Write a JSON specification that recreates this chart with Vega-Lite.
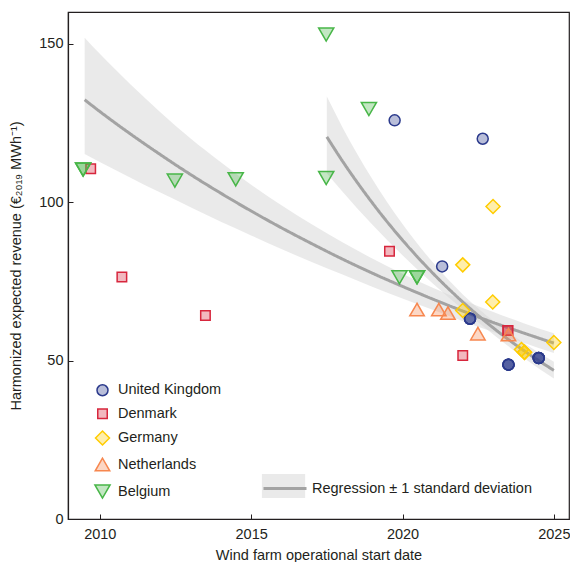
{
  "$schema": "https://vega.github.io/schema/vega-lite/v6.json",
  "width": 501,
  "height": 507,
  "autosize": "none",
  "padding": {"left": 68, "top": 12, "right": 1, "bottom": 43},
  "config": {
    "font": "Liberation Sans",
    "view": {"stroke": "#231f20", "strokeWidth": 1.2},
    "axis": {
      "grid": false,
      "domainColor": "#231f20",
      "domainWidth": 1.2,
      "tickColor": "#231f20",
      "tickSize": -5,
      "labelColor": "#231f20",
      "titleColor": "#231f20",
      "labelFontSize": 14.5,
      "titleFontSize": 14.5,
      "titleFontWeight": "normal"
    },
    "legend": {"labelFontSize": 14.5, "labelColor": "#231f20", "padding": 0, "labelLimit": 400}
  },
  "datasets": {
    "fit": [
      {"model": "all", "year": 2009.5, "fit": 132.3, "lo": 115.2, "hi": 151.9, "label": "Regression ± 1 standard deviation", "band": "sd"},
      {"model": "all", "year": 2010, "fit": 128.6, "lo": 112.7, "hi": 146.8, "label": "Regression ± 1 standard deviation", "band": "sd"},
      {"model": "all", "year": 2011, "fit": 121.6, "lo": 107.8, "hi": 137.3, "label": "Regression ± 1 standard deviation", "band": "sd"},
      {"model": "all", "year": 2012, "fit": 115.0, "lo": 103.0, "hi": 128.4, "label": "Regression ± 1 standard deviation", "band": "sd"},
      {"model": "all", "year": 2013, "fit": 108.7, "lo": 98.4, "hi": 120.1, "label": "Regression ± 1 standard deviation", "band": "sd"},
      {"model": "all", "year": 2014, "fit": 102.8, "lo": 93.8, "hi": 112.6, "label": "Regression ± 1 standard deviation", "band": "sd"},
      {"model": "all", "year": 2015, "fit": 97.2, "lo": 89.5, "hi": 105.5, "label": "Regression ± 1 standard deviation", "band": "sd"},
      {"model": "all", "year": 2016, "fit": 91.9, "lo": 85.2, "hi": 99.0, "label": "Regression ± 1 standard deviation", "band": "sd"},
      {"model": "all", "year": 2017, "fit": 86.9, "lo": 81.1, "hi": 93.0, "label": "Regression ± 1 standard deviation", "band": "sd"},
      {"model": "all", "year": 2018, "fit": 82.1, "lo": 77.2, "hi": 87.4, "label": "Regression ± 1 standard deviation", "band": "sd"},
      {"model": "all", "year": 2019, "fit": 77.6, "lo": 73.3, "hi": 82.2, "label": "Regression ± 1 standard deviation", "band": "sd"},
      {"model": "all", "year": 2020, "fit": 73.4, "lo": 69.6, "hi": 77.4, "label": "Regression ± 1 standard deviation", "band": "sd"},
      {"model": "all", "year": 2021, "fit": 69.4, "lo": 66.0, "hi": 73.0, "label": "Regression ± 1 standard deviation", "band": "sd"},
      {"model": "all", "year": 2022, "fit": 65.6, "lo": 62.4, "hi": 69.0, "label": "Regression ± 1 standard deviation", "band": "sd"},
      {"model": "all", "year": 2023, "fit": 62.0, "lo": 59.0, "hi": 65.3, "label": "Regression ± 1 standard deviation", "band": "sd"},
      {"model": "all", "year": 2024, "fit": 58.7, "lo": 55.6, "hi": 61.8, "label": "Regression ± 1 standard deviation", "band": "sd"},
      {"model": "all", "year": 2025, "fit": 55.5, "lo": 52.4, "hi": 58.6, "label": "Regression ± 1 standard deviation", "band": "sd"},
      {"model": "recent", "year": 2017.5, "fit": 120.6, "lo": 109.1, "hi": 133.3, "label": "Regression ± 1 standard deviation", "band": "sd"},
      {"model": "recent", "year": 2018, "fit": 113.2, "lo": 103.5, "hi": 123.9, "label": "Regression ± 1 standard deviation", "band": "sd"},
      {"model": "recent", "year": 2019, "fit": 99.8, "lo": 92.9, "hi": 107.3, "label": "Regression ± 1 standard deviation", "band": "sd"},
      {"model": "recent", "year": 2020, "fit": 88.0, "lo": 83.2, "hi": 93.1, "label": "Regression ± 1 standard deviation", "band": "sd"},
      {"model": "recent", "year": 2021, "fit": 77.6, "lo": 74.3, "hi": 81.0, "label": "Regression ± 1 standard deviation", "band": "sd"},
      {"model": "recent", "year": 2022, "fit": 68.4, "lo": 66.1, "hi": 70.8, "label": "Regression ± 1 standard deviation", "band": "sd"},
      {"model": "recent", "year": 2023, "fit": 60.3, "lo": 58.2, "hi": 62.5, "label": "Regression ± 1 standard deviation", "band": "sd"},
      {"model": "recent", "year": 2024, "fit": 53.2, "lo": 50.9, "hi": 55.6, "label": "Regression ± 1 standard deviation", "band": "sd"},
      {"model": "recent", "year": 2025, "fit": 46.9, "lo": 44.3, "hi": 49.6, "label": "Regression ± 1 standard deviation", "band": "sd"}
    ],
    "points": [
      {"country": "United Kingdom", "year": 2019.74, "value": 125.8},
      {"country": "United Kingdom", "year": 2022.65, "value": 120.0},
      {"country": "United Kingdom", "year": 2021.31, "value": 79.7},
      {"country": "United Kingdom", "year": 2022.23, "value": 63.2},
      {"country": "United Kingdom", "year": 2022.23, "value": 63.2},
      {"country": "United Kingdom", "year": 2022.23, "value": 63.2},
      {"country": "United Kingdom", "year": 2023.5, "value": 48.7},
      {"country": "United Kingdom", "year": 2023.5, "value": 48.7},
      {"country": "United Kingdom", "year": 2023.5, "value": 48.7},
      {"country": "United Kingdom", "year": 2023.5, "value": 48.7},
      {"country": "United Kingdom", "year": 2024.5, "value": 50.8},
      {"country": "United Kingdom", "year": 2024.5, "value": 50.8},
      {"country": "United Kingdom", "year": 2024.5, "value": 50.8},
      {"country": "United Kingdom", "year": 2024.5, "value": 50.8},
      {"country": "Denmark", "year": 2009.7, "value": 110.5},
      {"country": "Denmark", "year": 2010.73, "value": 76.4},
      {"country": "Denmark", "year": 2013.49, "value": 64.2},
      {"country": "Denmark", "year": 2019.57, "value": 84.5},
      {"country": "Denmark", "year": 2021.99, "value": 51.6},
      {"country": "Denmark", "year": 2023.48, "value": 59.5},
      {"country": "Denmark", "year": 2023.48, "value": 59.5},
      {"country": "Germany", "year": 2022.99, "value": 98.6},
      {"country": "Germany", "year": 2021.99, "value": 80.2},
      {"country": "Germany", "year": 2022.98, "value": 68.5},
      {"country": "Germany", "year": 2021.99, "value": 65.8},
      {"country": "Germany", "year": 2023.93, "value": 53.5},
      {"country": "Germany", "year": 2024.03, "value": 52.6},
      {"country": "Germany", "year": 2024.03, "value": 52.6},
      {"country": "Germany", "year": 2025.0, "value": 55.7},
      {"country": "Netherlands", "year": 2020.48, "value": 66.1},
      {"country": "Netherlands", "year": 2021.2, "value": 66.1},
      {"country": "Netherlands", "year": 2021.5, "value": 65.0},
      {"country": "Netherlands", "year": 2022.49, "value": 58.5},
      {"country": "Netherlands", "year": 2023.5, "value": 58.2},
      {"country": "Belgium", "year": 2009.45, "value": 110.3},
      {"country": "Belgium", "year": 2009.45, "value": 110.3},
      {"country": "Belgium", "year": 2012.48, "value": 106.8},
      {"country": "Belgium", "year": 2014.49, "value": 107.2},
      {"country": "Belgium", "year": 2017.48, "value": 152.9},
      {"country": "Belgium", "year": 2018.89, "value": 129.4},
      {"country": "Belgium", "year": 2017.48, "value": 107.6},
      {"country": "Belgium", "year": 2019.9, "value": 76.3},
      {"country": "Belgium", "year": 2020.48, "value": 76.3},
      {"country": "Belgium", "year": 2020.48, "value": 76.3}
    ]
  },
  "encoding": {
    "x": {
      "field": "year",
      "type": "quantitative",
      "scale": {"domain": [2008.95, 2025.5], "nice": false, "zero": false},
      "axis": {"values": [2010, 2015, 2020, 2025], "format": "d", "labelPadding": 13, "titlePadding": 8},
      "title": "Wind farm operational start date"
    }
  },
  "layer": [
    {
      "data": {"name": "fit"},
      "mark": {"type": "area", "fill": "#d6d6d6", "interpolate": "monotone"},
      "encoding": {
        "y": {
          "field": "lo",
          "type": "quantitative",
          "scale": {"domain": [0, 160], "nice": false},
          "axis": {"values": [0, 50, 100, 150], "labelPadding": 10, "titlePadding": 15},
          "title": "Harmonized expected revenue (€₂₀₁₉ MWh⁻¹)"
        },
        "y2": {"field": "hi"},
        "detail": {"field": "model"},
        "opacity": {
          "field": "band",
          "type": "nominal",
          "scale": {"type": "ordinal", "domain": ["sd"], "range": [0.5]},
          "legend": {
            "orient": "none",
            "legendX": 203.5,
            "legendY": 462,
            "title": null,
            "symbolType": "M-1.8,-1H1.8V1H-1.8Z",
            "symbolSize": 576,
            "symbolFillColor": "#d6d6d6",
            "symbolStrokeWidth": 0,
            "labelExpr": "''"
          }
        }
      }
    },
    {
      "data": {"name": "fit"},
      "mark": {"type": "line", "stroke": "#a3a3a3", "strokeWidth": 3, "interpolate": "monotone"},
      "encoding": {
        "y": {"field": "fit", "type": "quantitative"},
        "detail": {"field": "model"},
        "strokeDash": {
          "field": "label",
          "type": "nominal",
          "scale": {"range": [[1, 0]]},
          "legend": {
            "orient": "none",
            "legendX": 194,
            "legendY": 453.5,
            "title": null,
            "symbolType": "stroke",
            "symbolSize": 1849,
            "symbolStrokeWidth": 3,
            "symbolStrokeColor": "#a3a3a3",
            "labelOffset": 4
          }
        }
      }
    },
    {
      "data": {"name": "points"},
      "mark": {"type": "point", "filled": true, "opacity": 1, "strokeWidth": 1.5},
      "encoding": {
        "y": {"field": "value", "type": "quantitative"},
        "shape": {
          "field": "country",
          "type": "nominal",
          "scale": {
            "domain": ["United Kingdom", "Denmark", "Germany", "Netherlands", "Belgium"],
            "range": ["circle", "square", "diamond", "triangle-up", "triangle-down"]
          },
          "legend": {
            "orient": "none",
            "legendX": 26,
            "legendY": 371,
            "title": null,
            "rowPadding": 6.5,
            "labelOffset": 7,
            "symbolStrokeWidth": 1.5
          }
        },
        "fill": {
          "field": "country",
          "type": "nominal",
          "scale": {
            "domain": ["United Kingdom", "Denmark", "Germany", "Netherlands", "Belgium"],
            "range": ["rgba(43,58,140,0.33)", "rgba(215,38,61,0.33)", "rgba(255,204,0,0.33)", "rgba(247,135,79,0.33)", "rgba(72,182,72,0.33)"]
          },
          "legend": {
            "orient": "none",
            "legendX": 26,
            "legendY": 371,
            "title": null,
            "rowPadding": 6.5,
            "labelOffset": 7,
            "symbolStrokeWidth": 1.5
          }
        },
        "stroke": {
          "field": "country",
          "type": "nominal",
          "scale": {
            "domain": ["United Kingdom", "Denmark", "Germany", "Netherlands", "Belgium"],
            "range": ["#2b3a8c", "#d7263d", "#ffcc00", "#f7874f", "#48b648"]
          }
        },
        "size": {
          "field": "country",
          "type": "nominal",
          "scale": {
            "type": "ordinal",
            "domain": ["United Kingdom", "Denmark", "Germany", "Netherlands", "Belgium"],
            "range": [121, 90, 196, 210, 230]
          }
        }
      }
    }
  ]
}
